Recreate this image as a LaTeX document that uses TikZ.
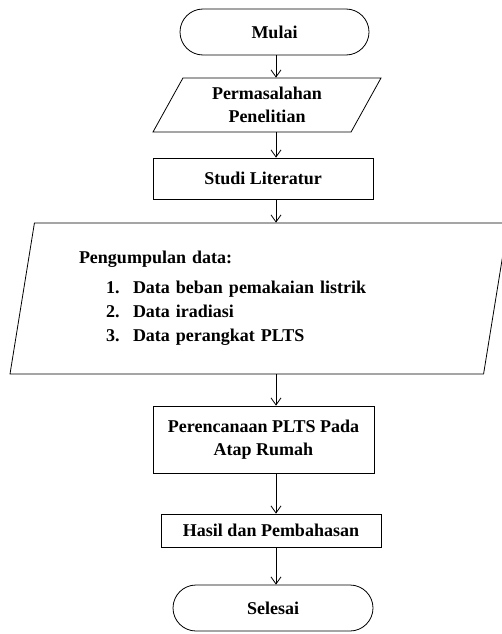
\documentclass[tikz,border=0pt]{standalone}
\usepackage{fontspec}
\setmainfont{Liberation Serif}
\usetikzlibrary{shapes.geometric,arrows.meta}

\begin{document}
\begin{tikzpicture}[x=1pt, y=-1pt, line width=0.8pt,
  font=\fontsize{18}{22.5}\selectfont\bfseries,
  terminal/.style={draw, rounded corners=23pt, minimum height=46pt, inner sep=0pt},
  proses/.style={draw, rectangle, align=center, inner sep=0pt},
  masukan/.style={draw, trapezium, trapezium stretches body, inner sep=0pt},
  panah/.style={-{Straight Barb[length=7pt,width=10pt]}}]
\useasboundingbox (0,0) rectangle (501,634);

\node (mulai) at (274.5,32) [terminal, minimum width=189pt] {Mulai};

\node (masalah) at (267,105) [masukan, align=center, minimum width=228pt, minimum height=54pt,
  trapezium left angle=49.6, trapezium right angle=130.4] {Permasalahan\\Penelitian};

\node (studi) at (263,178.5) [proses, minimum width=220pt, minimum height=41pt] {Studi Literatur};

\node (data) at (259,298.5) [masukan, minimum width=498pt, minimum height=151pt,
  trapezium left angle=75.5, trapezium right angle=104.5, text width=360pt, align=left]
  {Pengumpulan data:\\[7.5pt]
   \hspace*{27pt}\makebox[27pt][l]{1.}Data beban pemakaian listrik\\[1.5pt]
   \hspace*{27pt}\makebox[27pt][l]{2.}Data iradiasi\\[1.5pt]
   \hspace*{27pt}\makebox[27pt][l]{3.}Data perangkat PLTS};

\node (rencana) at (263.5,439.5) [proses, minimum width=221pt, minimum height=67pt] {Perencanaan PLTS Pada\\Atap Rumah};

\node (hasil) at (271,530.5) [proses, minimum width=220pt, minimum height=33pt] {Hasil dan Pembahasan};

\node (selesai) at (273,608) [terminal, minimum width=200pt] {Selesai};

% garis alir
\coordinate (sumbu) at (276,0);
\draw[panah] (mulai.south -| sumbu) -- (masalah.north -| sumbu);
\draw[panah] (masalah.south -| sumbu) -- (studi.north -| sumbu);
\draw[panah] (studi.south -| sumbu) -- (data.north -| sumbu);
\draw[panah] (data.south -| sumbu) -- (rencana.north -| sumbu);
\draw[panah] (rencana.south -| sumbu) -- (hasil.north -| sumbu);
\draw[panah] (hasil.south -| sumbu) -- (selesai.north -| sumbu);
\end{tikzpicture}
\end{document}
